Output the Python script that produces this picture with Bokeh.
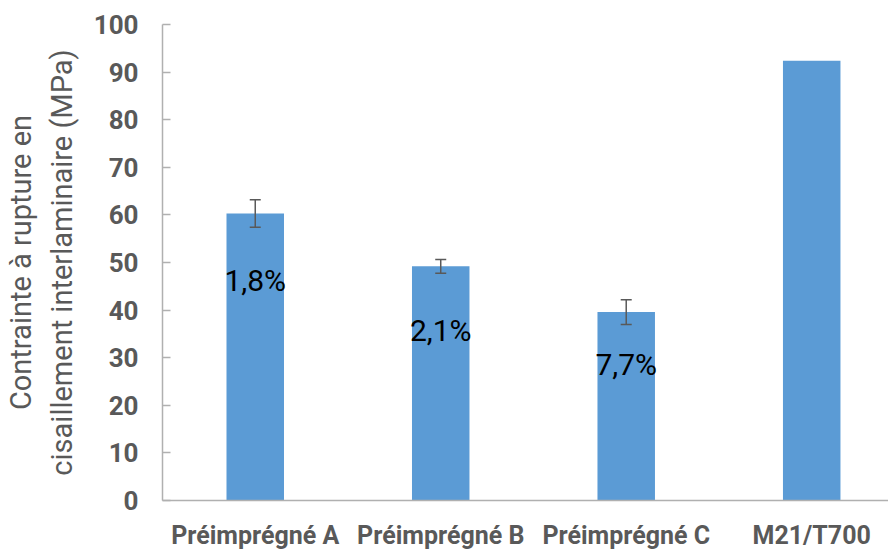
from bokeh.plotting import figure
from bokeh.models import Range1d, FixedTicker, Whisker, ColumnDataSource
from bokeh.core.properties import value
from bokeh.embed import file_html
from bokeh.resources import INLINE

categories = ["Préimprégné A", "Préimprégné B", "Préimprégné C", "M21/T700"]
values = [60.3, 49.2, 39.6, 92.4]
errors = [2.9, 1.45, 2.6]
pct_labels = ["1,8%", "2,1%", "7,7%"]
pct_label_y = [46.2, 35.7, 28.6]
y_ticks = [0, 10, 20, 30, 40, 50, 60, 70, 80, 90, 100]

xs = list(range(1, len(categories) + 1))
src = ColumnDataSource(dict(x=xs, top=values))
err_src = ColumnDataSource(dict(x=xs[:3],
                                upper=[v + e for v, e in zip(values, errors)],
                                lower=[v - e for v, e in zip(values, errors)]))

p = figure(width=888, height=552, output_backend="svg", toolbar_location=None,
           x_range=Range1d(0.5, 4.414), y_range=Range1d(0, 100),
           min_border_left=160, min_border_right=0, min_border_top=24, min_border_bottom=51)
p.outline_line_color = None
p.grid.grid_line_color = None

p.vbar(x="x", top="top", width=0.31, source=src, fill_color="#5B9BD5", line_color=None)

w = Whisker(base="x", upper="upper", lower="lower", source=err_src,
            line_color="#595959", line_width=1.5, level="overlay")
for h in (w.upper_head, w.lower_head):
    h.size = 11
    h.line_color = "#595959"
    h.line_width = 1.5
p.add_layout(w)

p.text(x=xs[:3], y=pct_label_y, text=pct_labels, text_align="center", text_baseline="middle",
       text_font=value("Roboto"), text_font_size="30px", text_color="black")

p.yaxis.ticker = FixedTicker(ticks=y_ticks)
p.yaxis.major_tick_in = 8
p.yaxis.major_tick_out = 0
p.yaxis.minor_tick_line_color = None
p.yaxis.axis_line_color = "#B0B0B0"
p.yaxis.axis_line_width = 1.5
p.yaxis.major_tick_line_color = "#B0B0B0"
p.yaxis.major_tick_line_width = 1.5
p.yaxis.major_label_text_font = "Roboto"
p.yaxis.major_label_text_font_style = "bold"
p.yaxis.major_label_text_font_size = "26px"
p.yaxis.major_label_text_color = "#595959"
p.yaxis.major_label_standoff = 24
p.yaxis.axis_label = "Contrainte à rupture en\ncisaillement interlaminaire (MPa)"
p.yaxis.axis_label_text_font = "Roboto"
p.yaxis.axis_label_text_font_style = "normal"
p.yaxis.axis_label_text_font_size = "29px"
p.yaxis.axis_label_text_color = "#595959"
p.yaxis.axis_label_standoff = 12

p.xaxis.ticker = FixedTicker(ticks=xs)
p.xaxis.major_label_overrides = {x: c for x, c in zip(xs, categories)}
p.xaxis.major_tick_line_color = None
p.xaxis.minor_tick_line_color = None
p.xaxis.axis_line_color = "#B0B0B0"
p.xaxis.axis_line_width = 1.5
p.xaxis.major_label_text_font = "Roboto"
p.xaxis.major_label_text_font_style = "bold"
p.xaxis.major_label_text_font_size = "25px"
p.xaxis.major_label_text_color = "#595959"
p.xaxis.major_label_standoff = 14

open("out.html", "w").write(file_html(p, INLINE))
